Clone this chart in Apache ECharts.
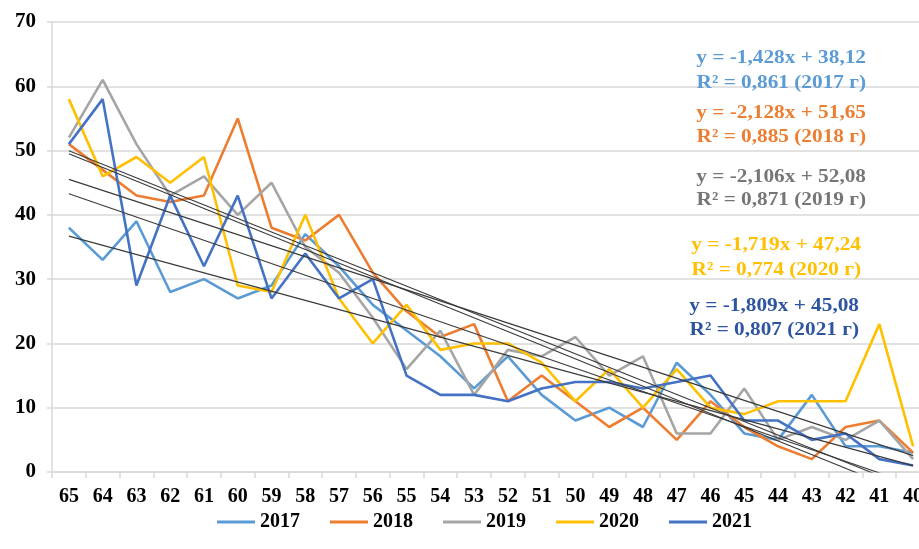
<!DOCTYPE html>
<html>
<head>
<meta charset="utf-8">
<script src="https://cdn.jsdelivr.net/npm/echarts@6/dist/echarts.min.js"></script>
<style>
html,body{margin:0;padding:0;background:#fff;}
#chart{width:919px;height:549px;}
</style>
</head>
<body>
<div id="chart"></div>
<script>
var categories = ['65','64','63','62','61','60','59','58','57','56','55','54','53','52','51','50','49','48','47','46','45','44','43','42','41','40'];
var years = ['2017','2018','2019','2020','2021'];
var d2017 = [38,33,39,28,30,27,29,37,32,26,22,18,13,18,12,8,10,7,17,12,6,5,12,4,4,3];
var d2018 = [51,47,43,42,43,55,38,36,40,31,25,21,23,11,15,11,7,10,5,11,7,4,2,7,8,3];
var d2019 = [52,61,51,43,46,40,45,35,31,24,16,22,12,19,18,21,15,18,6,6,13,5,7,5,8,2];
var d2020 = [58,46,49,45,49,29,28,40,27,20,26,19,20,20,17,11,16,10,16,10,9,11,11,11,23,4];
var d2021 = [51,58,29,43,32,43,27,34,27,30,15,12,12,11,13,14,14,13,14,15,8,8,5,6,2,1];
var trendSlope = [-1.428,-2.128,-2.106,-1.719,-1.809];
var trendIntercept = [38.12,51.65,52.08,47.24,45.08];
var trendR2 = [0.861,0.885,0.871,0.774,0.807];
var yTicks = [0,10,20,30,40,50,60,70];

var seriesData = [d2017,d2018,d2019,d2020,d2021];
var lineColors = ['#5B9BD5','#ED7D31','#A5A5A5','#FFC000','#4472C4'];
var textColors = ['#5B9BD5','#ED7D31','#767676','#FFC000','#2F55A0'];
var textPos = [[866,58,83],[866,113,137],[866,177,200],[861,245,270],[859,306,330]];
var serif = '"Liberation Serif","Times New Roman",serif';

function fmt(v, d){ return v.toFixed(d).replace('.', ','); }

var series = [];
years.forEach(function(y,i){
  series.push({
    name: y, type: 'line', data: seriesData[i], symbol: 'none',
    lineStyle: {color: lineColors[i], width: 2.6}, itemStyle: {color: lineColors[i]},
    z: 2, animation: false
  });
});
years.forEach(function(y,i){
  var n = categories.length;
  series.push({
    name: 'trend' + y, type: 'line', symbol: 'none', clip: true,
    data: [[0, trendIntercept[i] + trendSlope[i]*1], [n-1, trendIntercept[i] + trendSlope[i]*n]],
    lineStyle: {color: '#3a3a3a', width: 1.1}, z: 3, animation: false, silent: true
  });
});

var graphics = [];
years.forEach(function(y,i){
  var s = trendSlope[i] < 0 ? '-' : '';
  var eq = 'y = ' + s + fmt(Math.abs(trendSlope[i]),3) + 'x + ' + fmt(trendIntercept[i],2);
  var r2 = 'R² = ' + fmt(trendR2[i],3) + ' (' + y + ' г)';
  [eq, r2].forEach(function(t,k){
    graphics.push({type:'text', x: textPos[i][0], y: textPos[i][k+1], z: 10, scaleX: 1.12, scaleY: 1.0,
      style:{text: t, fill: textColors[i], font: 'bold 19px ' + serif, textAlign:'right', textVerticalAlign:'middle'}});
  });
});

var chart = echarts.init(document.getElementById('chart'));
chart.setOption({
  animation: false,
  backgroundColor: '#fff',
  grid: {left: 52, top: 22, width: 878, bottom: 77, containLabel: false, outerBoundsMode: 'none'},
  legend: {
    data: years.map(function(y,i){ return {name: y, icon: 'rect'}; }),
    left: 212, top: 507, itemWidth: 38, itemHeight: 3, itemGap: 30,
    textStyle: {fontFamily: serif, fontWeight: 'bold', fontSize: 20, color: '#000'}
  },
  xAxis: {
    type: 'category', data: categories, boundaryGap: true,
    axisLine: {lineStyle: {color: '#d9d9d9', width: 1.5}},
    axisTick: {show: true, alignWithLabel: false, length: 6, lineStyle: {color: '#d9d9d9', width: 1.5}},
    axisLabel: {fontFamily: serif, fontWeight: 'bold', fontSize: 20, color: '#000', margin: 15, interval: 0, hideOverlap: false}
  },
  yAxis: {
    type: 'value', min: yTicks[0], max: yTicks[yTicks.length-1], interval: 10,
    axisLine: {show: true, lineStyle: {color: '#d9d9d9', width: 1.5}},
    axisTick: {show: true, length: 5, lineStyle: {color: '#d9d9d9', width: 1.5}},
    splitLine: {lineStyle: {color: '#d9d9d9', width: 1.5}},
    axisLabel: {fontFamily: serif, fontWeight: 'bold', fontSize: 21, color: '#000', margin: 16}
  },
  series: series,
  graphic: graphics
});
</script>
</body>
</html>
